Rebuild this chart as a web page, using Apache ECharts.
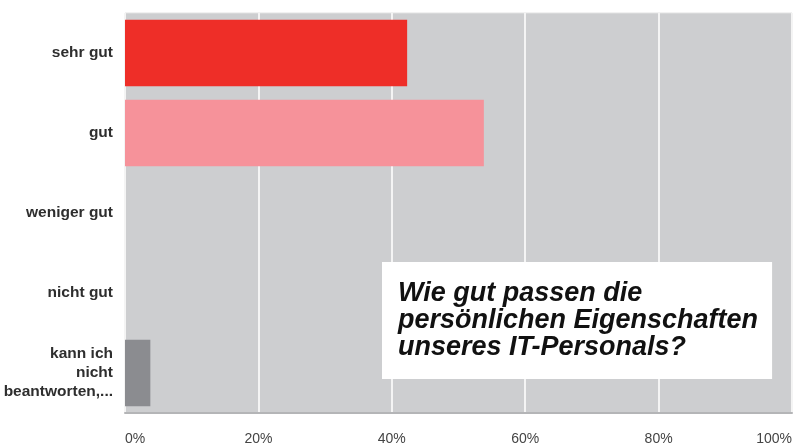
<!DOCTYPE html>
<html>
<head>
<meta charset="utf-8">
<script src="https://cdn.jsdelivr.net/npm/echarts@6/dist/echarts.min.js"></script>
<style>
  html, body { margin: 0; padding: 0; background: #fff; }
  #chart { width: 801px; height: 446px; }
</style>
</head>
<body>
<div id="chart"></div>
<script>
// Kategorien (von oben nach unten)
const categories = ['sehr gut', 'gut', 'weniger gut', 'nicht gut', 'kann ich\nnicht\nbeantworten,...'];
// Anteile in %
const shares = [42.3, 53.8, 0, 0, 3.8];
const barColors = ['#ee2e28', '#f6929a', '#8b8c90', '#8b8c90', '#8b8c90'];
const xTicks = [0, 20, 40, 60, 80, 100];
const titleText = 'Wie gut passen die\npersönlichen Eigenschaften\nunseres IT-Personals?';

const chart = echarts.init(document.getElementById('chart'));

chart.setOption({
  animation: false,
  textStyle: { fontFamily: 'Liberation Sans, Arial, sans-serif' },
  title: {
    text: titleText,
    left: 382,
    top: 262,
    backgroundColor: '#ffffff',
    padding: [18, 14, 18, 16],
    textStyle: {
      fontSize: 27,
      fontStyle: 'italic',
      fontWeight: 'bold',
      color: '#111',
      lineHeight: 27
    },
    z: 10
  },
  grid: {
    left: 125,
    right: 9,
    top: 13,
    bottom: 31,
    show: true,
    backgroundColor: '#cdced0',
    borderColor: '#e2e2e2',
    borderWidth: 1
  },
  xAxis: {
    type: 'value',
    min: xTicks[0],
    max: xTicks[xTicks.length - 1],
    interval: 20,
    axisLine: { show: true, lineStyle: { color: '#b4b5b7', width: 2 } },
    axisTick: { show: false },
    splitLine: { show: true, lineStyle: { color: '#f4f4f4', width: 2 } },
    axisLabel: {
      formatter: '{value}%',
      color: '#444',
      fontSize: 14,
      margin: 19,
      alignMinLabel: 'left',
      alignMaxLabel: 'right'
    }
  },
  yAxis: {
    type: 'category',
    inverse: true,
    data: categories,
    axisLine: { show: false },
    axisTick: { show: false },
    axisLabel: {
      color: '#2e2e2e',
      fontSize: 15.5,
      fontWeight: 'bold',
      lineHeight: 19,
      margin: 12
    }
  },
  series: [
    {
      type: 'bar',
      data: shares.map((v, i) => ({ value: v, itemStyle: { color: barColors[i] } })),
      barCategoryGap: '17%',
      silent: true
    }
  ]
});
</script>
</body>
</html>
